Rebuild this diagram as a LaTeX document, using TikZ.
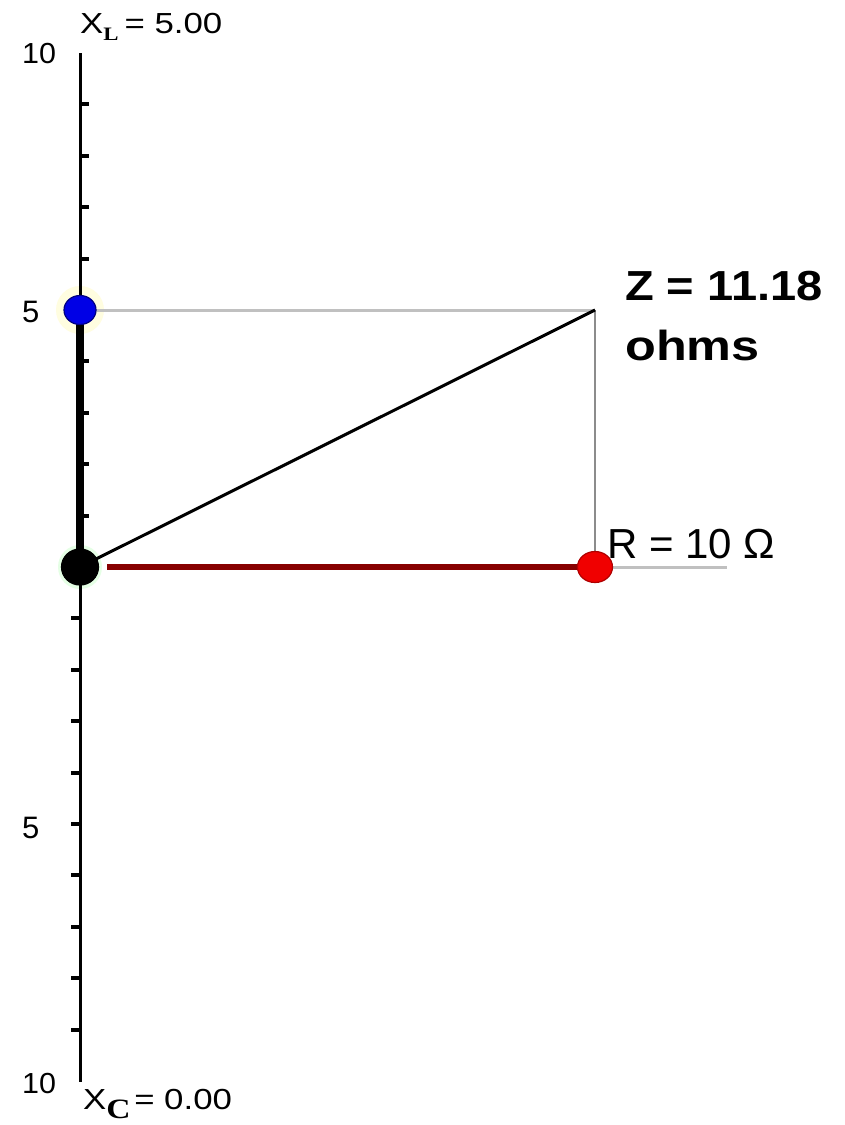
\documentclass[tikz,border=0pt]{standalone}
\usepackage{fontspec}
\setmainfont{Liberation Sans}
\newfontfamily\subserif{Liberation Serif}
\usetikzlibrary{shapes.geometric}
\definecolor{lightgrayline}{RGB}{192,192,192}
\definecolor{midgrayline}{RGB}{140,140,140}
\definecolor{maroonline}{RGB}{135,0,0}
\definecolor{dotblue}{RGB}{0,0,230}
\definecolor{dotblueedge}{RGB}{0,0,130}
\definecolor{dotred}{RGB}{240,0,0}
\definecolor{dotrededge}{RGB}{175,0,0}
\begin{document}
\begin{tikzpicture}[x=1pt,y=-1pt,
  axisline/.style={line width=3pt,black},
  tickmark/.style={line width=4pt,black},
  reactline/.style={line width=8pt,black},
  projline/.style={line width=3pt,lightgrayline},
  vertline/.style={line width=1.5pt,midgrayline},
  zline/.style={line width=3pt,black},
  rline/.style={line width=6pt,maroonline},
  dotbase/.style={ellipse,inner sep=0pt,line width=1.2pt},
  axlabel/.style={anchor=base west,inner sep=0pt,font=\fontsize{29}{29}\selectfont},
  fivelabel/.style={anchor=base west,inner sep=0pt,font=\fontsize{31}{31}\selectfont},
  zlabel/.style={anchor=base west,inner sep=0pt,font=\bfseries\fontsize{42}{42}\selectfont},
  rlabel/.style={anchor=base west,inner sep=0pt,font=\fontsize{42}{42}\selectfont}]
\useasboundingbox (0,0) rectangle (844,1125);
\fill[white] (0,0) rectangle (844,1125);

% key points
\coordinate (top) at (80,53);
\coordinate (bot) at (80,1082);
\coordinate (O) at (80,567);
\coordinate (L) at (80,310);
\coordinate (C) at (595,310);
\coordinate (R) at (595,567);
\coordinate (Rend) at (727,567);

% halos
\fill[yellow!12] (L) circle (24);
\fill[green!10] (O) circle (22);

% axis
\draw[axisline] (top) -- (bot);
\foreach \k in {1,...,9} \draw[tickmark] (80,567-51.4*\k) -- (89,567-51.4*\k);
\foreach \k in {1,...,9} \draw[tickmark] (71,567+51.4*\k) -- (80,567+51.4*\k);
\draw[reactline] (L) -- (O);

% construction lines
\draw[projline] (L) -- (C);
\draw[vertline] (C) -- (R);
\draw[zline] (O) -- (C);
\draw[rline,shorten <=27pt] (O) -- (R);
\draw[projline] (R) -- (Rend);

% dots
\node[dotbase,fill=dotblue,draw=dotblueedge,minimum width=32pt,minimum height=29pt] (Ldot) at (L) {};
\node[dotbase,fill=black,draw=black,minimum width=37pt,minimum height=36pt] (Odot) at (O) {};
\node[dotbase,fill=dotred,draw=dotrededge,minimum width=35pt,minimum height=31pt] (Rdot) at (R) {};

% labels
\node[axlabel] (t10) at (22,63) {\scalebox{1.05}[1]{10}};
\node[fivelabel] (t5) at (22,322) {5};
\node[fivelabel] (b5) at (22,838) {5};
\node[axlabel] (b10) at (22,1093) {\scalebox{1.05}[1]{10}};
\node[axlabel] (xl) at (80,33) {\scalebox{1.2}[1]{X\raisebox{-7pt}{\subserif\bfseries\fontsize{19}{19}\selectfont L}\hspace{5pt}= 5.00}};
\node[axlabel] (xc) at (83,1109) {\scalebox{1.2}[1]{X\raisebox{-9pt}{\subserif\bfseries\fontsize{28}{28}\selectfont C}\hspace{3pt}= 0.00}};
\node[zlabel] (z1) at (625,300) {\scalebox{1.12}[1]{Z = 11.18}};
\node[zlabel] (z2) at (625,360) {\scalebox{1.2}[1]{ohms}};
\node[rlabel] (rl) at (607,558) {R = 10 Ω};
\end{tikzpicture}
\end{document}
